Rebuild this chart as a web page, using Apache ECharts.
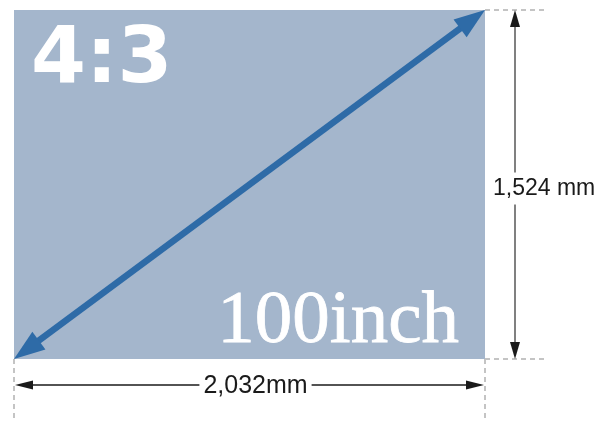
<!DOCTYPE html>
<html>
<head>
<meta charset="utf-8">
<script src="https://cdn.jsdelivr.net/npm/echarts@6/dist/echarts.min.js"></script>
<style>
  html, body { margin: 0; padding: 0; background: #fff; }
  #main { width: 607px; height: 421px; }
</style>
</head>
<body>
<div id="main"></div>
<script>
// screen size in mm (4:3, 100 inch diagonal)
var screenWidth = 2032;
var screenHeight = 1524;
var ratioText = '4:3';
var sizeText = '100inch';
var widthLabel = '2,032mm';
var heightLabel = '1,524 mm';

var screenColor = '#a4b6cc';
var arrowColor = '#2e6ba7';
var dashColor = '#c4c4c4';

var myChart = echarts.init(document.getElementById('main'));

function arrowHead(tip, ux, uy, len, half, color) {
    // ux,uy = unit vector pointing to the tip
    var bx = tip[0] - ux * len, by = tip[1] - uy * len;
    return {
        type: 'polygon',
        shape: { points: [tip, [bx - uy * half, by + ux * half], [bx + uy * half, by - ux * half]] },
        style: { fill: color }
    };
}

var option = {
    animation: false,
    grid: { left: 14, right: 122, top: 10, bottom: 62 },
    xAxis: { type: 'value', min: 0, max: screenWidth, show: false },
    yAxis: { type: 'value', min: 0, max: screenHeight, show: false },
    series: [
        {
            // the screen itself
            type: 'custom',
            data: [[0, 0, screenWidth, screenHeight]],
            renderItem: function (params, api) {
                var p0 = api.coord([api.value(0), api.value(3)]);
                var p1 = api.coord([api.value(2), api.value(1)]);
                return {
                    type: 'group',
                    children: [
                        { type: 'rect', shape: { x: p0[0], y: p0[1], width: p1[0] - p0[0], height: p1[1] - p0[1] }, style: { fill: screenColor } },
                        { type: 'text', style: { text: ratioText, x: p0[0] + 17, y: p0[1] + 51, fill: '#fff', font: 'bold 79px "DejaVu Sans"', align: 'left', verticalAlign: 'middle' } },
                        { type: 'text', style: { text: sizeText, x: p1[0] - 26, y: p1[1] - 37, fill: '#fff', font: '75px "Liberation Serif"', align: 'right', verticalAlign: 'middle', stroke: '#fff', lineWidth: 0.8 } }
                    ]
                };
            }
        },
        {
            // diagonal
            type: 'custom',
            data: [[0, 0, screenWidth, screenHeight]],
            renderItem: function (params, api) {
                var a = api.coord([api.value(0), api.value(1)]);
                var b = api.coord([api.value(2), api.value(3)]);
                var dx = b[0] - a[0], dy = b[1] - a[1];
                var d = Math.sqrt(dx * dx + dy * dy);
                var ux = dx / d, uy = dy / d;
                var L = 31;
                return {
                    type: 'group',
                    children: [
                        { type: 'line', shape: { x1: a[0] + ux * (L - 4), y1: a[1] + uy * (L - 4), x2: b[0] - ux * (L - 4), y2: b[1] - uy * (L - 4) }, style: { stroke: arrowColor, lineWidth: 6.5 } },
                        arrowHead(b, ux, uy, L, 11, arrowColor),
                        arrowHead(a, -ux, -uy, L, 11, arrowColor)
                    ]
                };
            }
        },
        {
            // width dimension
            type: 'custom',
            data: [[0, screenWidth]],
            renderItem: function (params, api) {
                var a = api.coord([api.value(0), 0]);
                var b = api.coord([api.value(1), 0]);
                var y = a[1] + 26;
                var dash = { stroke: dashColor, lineWidth: 2, lineDash: [5, 4] };
                return {
                    type: 'group',
                    children: [
                        { type: 'line', shape: { x1: a[0], y1: a[1], x2: a[0], y2: 421 }, style: dash },
                        { type: 'line', shape: { x1: b[0], y1: a[1], x2: b[0], y2: 421 }, style: dash },
                        { type: 'line', shape: { x1: a[0] + 10, y1: y, x2: b[0] - 10, y2: y }, style: { stroke: '#1a1a1a', lineWidth: 1.5 } },
                        arrowHead([a[0] + 1, y], -1, 0, 18, 4.5, '#1a1a1a'),
                        arrowHead([b[0] - 1, y], 1, 0, 18, 4.5, '#1a1a1a'),
                        { type: 'text', style: { text: widthLabel, x: (a[0] + b[0]) / 2 + 6, y: y + 1, fill: '#1a1a1a', font: '25px "Liberation Sans"', align: 'center', verticalAlign: 'middle', backgroundColor: '#fff', padding: [0, 4] } }
                    ]
                };
            }
        },
        {
            // height dimension
            type: 'custom',
            data: [[0, screenHeight]],
            renderItem: function (params, api) {
                var a = api.coord([screenWidth, api.value(0)]);
                var b = api.coord([screenWidth, api.value(1)]);
                var x = a[0] + 30;
                var dash = { stroke: dashColor, lineWidth: 2, lineDash: [5, 4] };
                return {
                    type: 'group',
                    children: [
                        { type: 'line', shape: { x1: a[0], y1: b[1], x2: a[0] + 60, y2: b[1] }, style: dash },
                        { type: 'line', shape: { x1: a[0], y1: a[1], x2: a[0] + 60, y2: a[1] }, style: dash },
                        { type: 'line', shape: { x1: x, y1: b[1] + 12, x2: x, y2: a[1] - 12 }, style: { stroke: '#808080', lineWidth: 2 } },
                        arrowHead([x, b[1]], 0, -1, 17, 5, '#1a1a1a'),
                        arrowHead([x, a[1]], 0, 1, 17, 5, '#1a1a1a'),
                        { type: 'text', style: { text: heightLabel, x: a[0] + 8, y: (a[1] + b[1]) / 2 + 4, fill: '#1a1a1a', font: '23px "Liberation Sans"', align: 'left', verticalAlign: 'middle', backgroundColor: '#fff', padding: [8, 0, 1, 0] } }
                    ]
                };
            }
        }
    ]
};
myChart.setOption(option);
</script>
</body>
</html>
